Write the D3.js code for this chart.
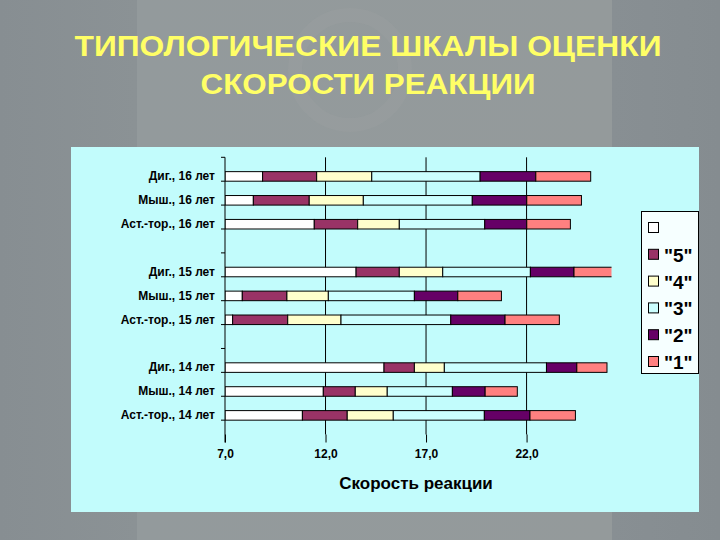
<!DOCTYPE html>
<html><head><meta charset="utf-8">
<script src="https://cdn.jsdelivr.net/npm/d3@7"></script>
<style>html,body{margin:0;padding:0;background:#8d9396;}svg{display:block;}</style>
</head><body>
<svg id="c" width="720" height="540"></svg>
<script>
const categories = ["Диг., 16 лет","Мыш., 16 лет","Аст.-тор., 16 лет","",
  "Диг., 15 лет","Мыш., 15 лет","Аст.-тор., 15 лет","",
  "Диг., 14 лет","Мыш., 14 лет","Аст.-тор., 14 лет"];
const seriesNames = ["", "\"5\"", "\"4\"", "\"3\"", "\"2\"", "\"1\""];
const sOffset = [8.87, 8.41, 11.44, null, 13.52, 7.86, 7.38, null, 14.91, 11.89, 10.85];
const s5 = [2.69, 2.78, 2.16, null, 2.15, 2.22, 2.74, null, 1.51, 1.59, 2.23];
const s4 = [2.74, 2.69, 2.07, null, 2.16, 2.06, 2.65, null, 1.49, 1.59, 2.29];
const s3 = [5.39, 5.42, 4.25, null, 4.36, 4.28, 5.46, null, 5.08, 3.24, 4.53];
const s2 = [2.77, 2.71, 2.09, null, 2.17, 2.16, 2.70, null, 1.51, 1.63, 2.27];
const s1 = [2.73, 2.72, 2.17, null, 2.20, 2.17, 2.70, null, 1.50, 1.60, 2.26];
const xTicks = [7, 12, 17, 22];
const seriesColors = ["#ffffff", "#993366", "#ffffcc", "#ccffff", "#660066", "#ff8080"];
const titleLines = ["ТИПОЛОГИЧЕСКИЕ ШКАЛЫ ОЦЕНКИ", "СКОРОСТИ РЕАКЦИИ"];
const xTitle = "Скорость реакции";

const svg = d3.select("#c");
const defs = svg.append("defs");
const bg = defs.append("linearGradient").attr("id","bg").attr("x1",0).attr("x2",1).attr("y1",0).attr("y2",0);
bg.append("stop").attr("offset","0").attr("stop-color","#878e92");
bg.append("stop").attr("offset","0.19").attr("stop-color","#8b9295");
bg.append("stop").attr("offset","0.19").attr("stop-color","#939a9c");
bg.append("stop").attr("offset","0.85").attr("stop-color","#949a9b");
bg.append("stop").attr("offset","0.85").attr("stop-color","#888f93");
bg.append("stop").attr("offset","1").attr("stop-color","#858c90");
svg.append("rect").attr("width",720).attr("height",540).attr("fill","url(#bg)");
svg.append("circle").attr("cx",350).attr("cy",70).attr("r",55).attr("fill","none").attr("stroke","#9ea3a4").attr("stroke-width",14).attr("opacity",0.25);

// title
const titleW = [587, 335];
svg.append("g").selectAll("text").data(titleLines).join("text")
  .attr("x",368).attr("y",(d,i)=>56+i*38)
  .attr("text-anchor","middle")
  .attr("font-family","Liberation Sans, Arial, sans-serif")
  .attr("font-weight","bold").attr("font-size",29)
  .attr("textLength",(d,i)=>titleW[i]).attr("lengthAdjust","spacingAndGlyphs")
  .attr("fill","#ffff66")
  .text(d=>d);

// chart area
svg.append("rect").attr("x",71).attr("y",147).attr("width",628).attr("height",365).attr("fill","#c2fcfc");

const L = 225, R = 611, T = 157.3, B = 434.5;
const x = d3.scaleLinear().domain([7, 26.2]).range([L, R]);
const y = d3.scaleBand().domain(d3.range(categories.length)).range([T, B]).padding(0.6);

const rows = categories.map((c,i)=>({i, v0:sOffset[i]||0, v5:s5[i]||0, v4:s4[i]||0, v3:s3[i]||0, v2:s2[i]||0, v1:s1[i]||0, blank: sOffset[i]==null}));
const keys = ["v0","v5","v4","v3","v2","v1"];
const stacked = d3.stack().keys(keys)(rows.filter(r=>!r.blank));

defs.append("clipPath").attr("id","plotclip").append("rect").attr("x",L).attr("y",T-2).attr("width",R-L+0.5).attr("height",B-T+4);

const font = "Liberation Sans, Arial, sans-serif";
svg.append("g").selectAll("line").data(xTicks.slice(1)).join("line")
  .attr("x1",d=>x(d)).attr("x2",d=>x(d)).attr("y1",T).attr("y2",B)
  .attr("stroke","#000").attr("stroke-width",1);

const gBars = svg.append("g").attr("clip-path","url(#plotclip)");
stacked.forEach((layer,k)=>{
  gBars.append("g").selectAll("rect").data(layer).join("rect")
    .attr("x",d=>x(Math.max(d[0],7)))
    .attr("width",d=>Math.max(0, x(d[1]) - x(Math.max(d[0],7))))
    .attr("y",d=>y(d.data.i))
    .attr("height",y.bandwidth())
    .attr("fill",seriesColors[k])
    .attr("stroke","#000").attr("stroke-width",1);
});

// x axis
const xAxis = svg.append("g").attr("transform",`translate(0,${B})`)
  .call(d3.axisBottom(x).tickValues(xTicks).tickSize(8).tickPadding(7)
    .tickFormat(d=>d.toFixed(1).replace(".",",")));
xAxis.select(".domain").remove();
xAxis.selectAll("line").attr("stroke","#000");
xAxis.selectAll("text").attr("font-family",font).attr("font-weight","bold").attr("font-size",12).attr("fill","#000");

// y axis
const yAxis = svg.append("g").attr("transform",`translate(${L},0)`)
  .call(d3.axisLeft(y).tickSize(0).tickPadding(10).tickFormat(i=>categories[i]));
yAxis.select(".domain").remove();
yAxis.selectAll("text").attr("font-family",font).attr("font-weight","bold").attr("font-size",12).attr("fill","#000");
svg.append("line").attr("x1",L).attr("x2",L).attr("y1",T).attr("y2",B+8).attr("stroke","#000");
const step = y.step();
svg.append("g").selectAll("line").data(d3.range(categories.length+1)).join("line")
  .attr("x1",L-4).attr("x2",L).attr("y1",i=>T+i*step).attr("y2",i=>T+i*step)
  .attr("stroke","#000");

// x title
svg.append("text").attr("x",416).attr("y",489).attr("text-anchor","middle")
  .attr("font-family",font).attr("font-weight","bold").attr("font-size",17).attr("fill","#000").text(xTitle);

// legend
const lg = svg.append("g");
lg.append("rect").attr("x",641.5).attr("y",211.5).attr("width",57).attr("height",162).attr("fill","#f6ffff").attr("stroke","#000");
seriesNames.forEach((n,k)=>{
  const cy = 228 + k*26.8;
  lg.append("rect").attr("x",648.5).attr("y",cy-5.5).attr("width",10).attr("height",10)
    .attr("fill",seriesColors[k]).attr("stroke","#000");
  lg.append("text").attr("x",664).attr("y",cy+7).attr("font-family",font).attr("font-weight","bold")
    .attr("font-size",19).attr("fill","#000").text(n);
});
</script>
</body></html>
